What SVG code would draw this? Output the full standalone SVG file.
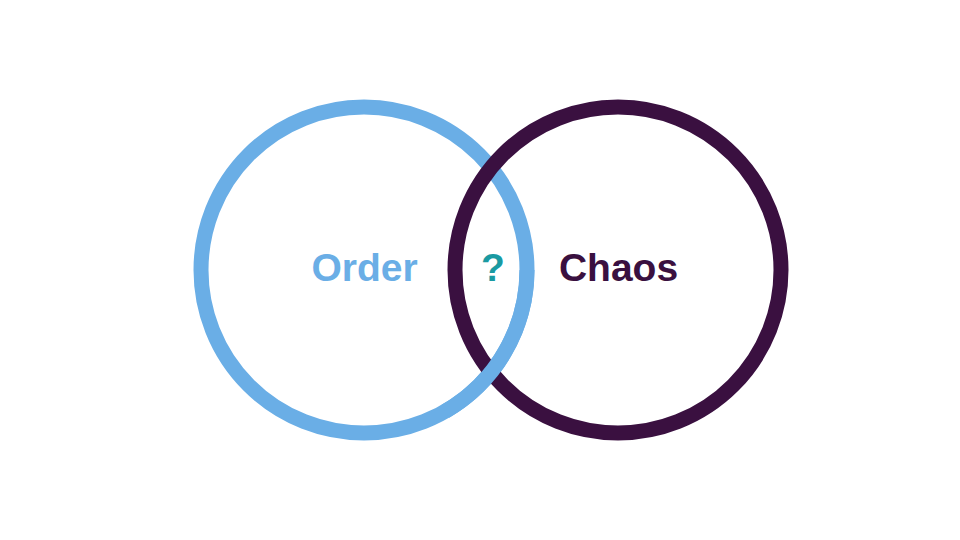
<svg xmlns="http://www.w3.org/2000/svg" width="960" height="540" viewBox="0 0 960 540">
<style>
.ring{fill:none;stroke-width:15}
.order{stroke:#6aaee6}
.chaos{stroke:#3a1040}
text{font-family:"Liberation Sans",Arial,sans-serif;font-weight:bold;font-size:39px;text-anchor:middle}
</style>
<rect width="960" height="540" fill="#ffffff"/>
<g id="order">
<circle class="ring order" cx="364" cy="270" r="163"/>
<text x="364.5" y="281" fill="#6aaee6">Order</text>
</g>
<g id="chaos">
<circle class="ring chaos" cx="618" cy="270" r="163"/>
<text x="618.5" y="281" fill="#3a1040">Chaos</text>
</g>
<g id="order-overlap">
<path class="ring order" d="M527 270 A163 163 0 0 1 445.5 411.2"/>
</g>
<g id="question">
<text x="493" y="281" fill="#1a9aa2">?</text>
</g>
</svg>
